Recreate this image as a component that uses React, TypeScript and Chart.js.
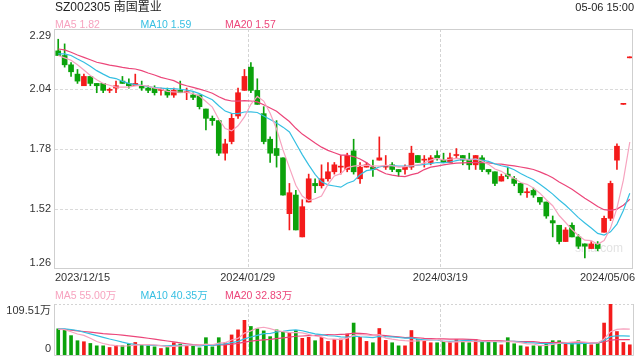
import React, { useEffect, useRef } from 'react';
import { Chart, registerables } from 'chart.js';

Chart.register(...registerables);

const DATES = [
  '2023/12/15', '2023/12/18', '2023/12/19', '2023/12/20', '2023/12/21', '2023/12/22',
  '2023/12/25', '2023/12/26', '2023/12/27', '2023/12/28', '2023/12/29',
  '2024/01/02', '2024/01/03', '2024/01/04', '2024/01/05',
  '2024/01/08', '2024/01/09', '2024/01/10', '2024/01/11', '2024/01/12',
  '2024/01/15', '2024/01/16', '2024/01/17', '2024/01/18', '2024/01/19',
  '2024/01/22', '2024/01/23', '2024/01/24', '2024/01/25', '2024/01/26',
  '2024/01/29', '2024/01/30', '2024/01/31', '2024/02/01', '2024/02/02',
  '2024/02/05', '2024/02/06', '2024/02/07', '2024/02/08',
  '2024/02/19', '2024/02/20', '2024/02/21', '2024/02/22', '2024/02/23',
  '2024/02/26', '2024/02/27', '2024/02/28', '2024/02/29', '2024/03/01',
  '2024/03/04', '2024/03/05', '2024/03/06', '2024/03/07', '2024/03/08',
  '2024/03/11', '2024/03/12', '2024/03/13', '2024/03/14', '2024/03/15',
  '2024/03/18', '2024/03/19', '2024/03/20', '2024/03/21', '2024/03/22',
  '2024/03/25', '2024/03/26', '2024/03/27', '2024/03/28', '2024/03/29',
  '2024/04/01', '2024/04/02', '2024/04/03',
  '2024/04/08', '2024/04/09', '2024/04/10', '2024/04/11', '2024/04/12',
  '2024/04/15', '2024/04/16', '2024/04/17', '2024/04/18', '2024/04/19',
  '2024/04/22', '2024/04/23', '2024/04/24', '2024/04/25', '2024/04/26',
  '2024/04/29', '2024/04/30', '2024/05/06',
];

const OPEN = [
  2.20, 2.18, 2.14, 2.10, 2.05, 2.09, 2.06, 2.06, 2.03, 2.04,
  2.07, 2.06, 2.05, 2.05, 2.04, 2.04, 2.03, 2.03, 2.01, 2.03,
  2.02, 2.01, 2.01, 1.95, 1.91, 1.90, 1.76, 1.81, 1.92, 2.03,
  2.13, 2.03, 1.93, 1.82, 1.78, 1.74, 1.50, 1.58, 1.40, 1.55,
  1.63, 1.62, 1.65, 1.68, 1.70, 1.69, 1.77, 1.65, 1.70, 1.70,
  1.73, 1.70, 1.71, 1.69, 1.69, 1.70, 1.75, 1.73, 1.72, 1.75,
  1.73, 1.72, 1.75, 1.75, 1.73, 1.71, 1.74, 1.69, 1.68, 1.64,
  1.67, 1.65, 1.63, 1.59, 1.60, 1.57, 1.55, 1.47, 1.45, 1.38,
  1.45, 1.40, 1.37, 1.35, 1.37, 1.42, 1.48, 1.73, 1.97, 2.17,
];
const HIGH = [
  2.25, 2.23, 2.15, 2.12, 2.10, 2.09, 2.06, 2.06, 2.04, 2.07,
  2.09, 2.08, 2.10, 2.07, 2.05, 2.05, 2.04, 2.04, 2.04, 2.07,
  2.04, 2.02, 2.01, 1.95, 1.92, 1.90, 1.82, 1.93, 2.04, 2.12,
  2.15, 2.08, 1.96, 1.83, 1.90, 1.74, 1.63, 1.60, 1.56, 1.67,
  1.65, 1.71, 1.72, 1.72, 1.75, 1.76, 1.82, 1.72, 1.72, 1.73,
  1.83, 1.75, 1.72, 1.69, 1.71, 1.79, 1.75, 1.75, 1.75, 1.77,
  1.76, 1.76, 1.78, 1.75, 1.76, 1.75, 1.75, 1.69, 1.68, 1.67,
  1.70, 1.66, 1.63, 1.61, 1.61, 1.57, 1.55, 1.49, 1.45, 1.44,
  1.46, 1.41, 1.37, 1.38, 1.38, 1.49, 1.64, 1.80, 1.97, 2.17,
];
const LOW = [
  2.18, 2.13, 2.09, 2.06, 2.05, 2.05, 2.02, 2.02, 2.02, 2.02,
  2.06, 2.04, 2.05, 2.03, 2.02, 2.01, 2.01, 2.00, 2.00, 2.02,
  1.99, 1.99, 1.95, 1.86, 1.88, 1.75, 1.73, 1.80, 1.91, 2.03,
  2.02, 1.97, 1.80, 1.72, 1.70, 1.58, 1.43, 1.43, 1.40, 1.55,
  1.59, 1.61, 1.64, 1.67, 1.67, 1.68, 1.67, 1.63, 1.70, 1.66,
  1.73, 1.69, 1.68, 1.66, 1.67, 1.69, 1.72, 1.70, 1.71, 1.73,
  1.72, 1.72, 1.74, 1.71, 1.69, 1.69, 1.68, 1.67, 1.62, 1.64,
  1.65, 1.62, 1.58, 1.57, 1.57, 1.54, 1.48, 1.40, 1.37, 1.38,
  1.40, 1.35, 1.31, 1.35, 1.34, 1.42, 1.47, 1.69, 1.97, 2.17,
];
const CLOSE = [
  2.18, 2.14, 2.11, 2.07, 2.09, 2.06, 2.05, 2.03, 2.03, 2.05,
  2.06, 2.05, 2.06, 2.04, 2.03, 2.02, 2.03, 2.01, 2.03, 2.02,
  2.02, 2.00, 1.96, 1.91, 1.90, 1.76, 1.80, 1.91, 2.02, 2.09,
  2.03, 1.97, 1.81, 1.76, 1.75, 1.58, 1.59, 1.43, 1.53, 1.65,
  1.62, 1.65, 1.68, 1.71, 1.70, 1.75, 1.68, 1.70, 1.71, 1.69,
  1.74, 1.70, 1.69, 1.68, 1.70, 1.76, 1.72, 1.73, 1.74, 1.74,
  1.72, 1.74, 1.75, 1.73, 1.71, 1.75, 1.69, 1.68, 1.63, 1.66,
  1.66, 1.63, 1.59, 1.59, 1.58, 1.55, 1.49, 1.46, 1.38, 1.43,
  1.40, 1.36, 1.36, 1.37, 1.35, 1.48, 1.63, 1.79, 1.97, 2.17,
];
// volume, in 万 (10k) shares
const VOLUME = [
  56.2, 54.0, 41.6, 30.7, 28.5, 24.8, 19.7, 19.7, 16.1, 20.4,
  19.7, 23.4, 27.0, 21.9, 19.7, 17.5, 13.9, 16.1, 26.3, 23.4,
  19.7, 20.4, 15.3, 37.2, 17.5, 37.2, 26.3, 43.1, 54.0, 74.5,
  61.3, 56.2, 51.8, 39.4, 54.0, 48.9, 46.7, 52.6, 35.8, 38.0,
  30.7, 38.0, 29.2, 33.6, 34.3, 45.3, 68.6, 38.0, 29.2, 26.3,
  56.9, 31.4, 26.3, 19.7, 19.7, 52.6, 34.3, 29.2, 26.3, 26.3,
  29.2, 27.0, 32.9, 29.2, 26.3, 32.9, 29.2, 29.2, 29.2, 21.9,
  37.2, 24.1, 19.7, 17.5, 19.7, 19.7, 25.6, 30.7, 30.7, 24.8,
  26.3, 30.7, 25.6, 21.9, 24.8, 68.6, 109.51, 50.4, 27.0, 21.9,
];

// moving-average values at the start of the window (history before the first bar)
const MA5_HEAD = [2.18, 2.17, 2.16, 2.14];
const MA10_HEAD = [2.187, 2.187, 2.18, 2.165, 2.151, 2.134, 2.115, 2.1, 2.086];
const MA20_HEAD = [2.208, 2.204, 2.194, 2.182, 2.172, 2.162, 2.151, 2.145, 2.139, 2.134,
  2.129, 2.125, 2.122, 2.115, 2.105, 2.096, 2.086, 2.079, 2.072];
const VMA5_HEAD = [55.5, 54.5, 50, 45];
const VMA10_HEAD = [56, 56, 54.7, 52.6, 48.9, 45.3, 41.6, 38.0, 34.3];
const VMA20_HEAD = [56, 55, 53.5, 52, 50.5, 49, 47.5, 46, 45, 44, 42.5, 41, 39.5, 38, 36, 34, 32, 30, 28];

const TITLE = 'SZ002305 南国置业';
const TIMESTAMP = '05-06 15:00';
const PRICE_LEGEND = [['MA5', '1.82'], ['MA10', '1.59'], ['MA20', '1.57']];
const VOLUME_LEGEND = [['MA5', '55.00万'], ['MA10', '40.35万'], ['MA20', '32.83万']];

const Y_MIN = 1.262;
const Y_MAX = 2.294;
const Y_TICKS = 5;
const VOL_MAX = 109.51;
const AXIS_LABEL_INDEX = [0, 30, 60, 89];
const DIVIDER_INDEX = [30, 60];

const RED = '#f41b1b';
const GREEN = '#0ba20b';
const MA_COLORS = ['#f7a3bf', '#36bfe2', '#ec467a'];
const FONT = '"Liberation Sans", Arial, "Noto Sans CJK SC", sans-serif';

function sma(values: number[], n: number, head: number[]) {
  return values.map((_, i) => {
    if (i < head.length) return head[i];
    let s = 0;
    for (let k = i - n + 1; k <= i; k++) s += values[k];
    return s / n;
  });
}

const UP = OPEN.map((o, i) => CLOSE[i] >= o);
const CANDLE_COLORS = UP.map((u) => (u ? RED : GREEN));

function dashedLine(ctx: CanvasRenderingContext2D, x1: number, y1: number, x2: number, y2: number) {
  ctx.beginPath();
  ctx.moveTo(x1, y1);
  ctx.lineTo(x2, y2);
  ctx.stroke();
}

function dividers(chart: any) {
  const { ctx, chartArea: a } = chart;
  const x = chart.scales.x;
  const slot = x.getPixelForValue(1) - x.getPixelForValue(0);
  ctx.save();
  ctx.strokeStyle = '#d4d4d4';
  ctx.lineWidth = 1;
  ctx.setLineDash([3, 2]);
  DIVIDER_INDEX.forEach((i) => {
    const px = Math.round(x.getPixelForValue(i) - slot / 2) + 0.5;
    dashedLine(ctx, px, a.top, px, a.bottom);
  });
  ctx.restore();
}

const pricePlugin = {
  id: 'priceDecor',
  beforeDatasetsDraw(chart: any) {
    const { ctx, chartArea: a } = chart;
    const y = chart.scales.y;
    ctx.save();
    ctx.font = `12px ${FONT}`;
    ctx.fillStyle = '#e3e3e3';
    ctx.textAlign = 'right';
    ctx.textBaseline = 'middle';
    ctx.fillText('sina.com', a.right - 10, a.bottom - 20);
    ctx.strokeStyle = '#dadada';
    ctx.lineWidth = 1;
    ctx.setLineDash([3, 2]);
    for (let k = 1; k < Y_TICKS - 1; k++) {
      const v = Y_MIN + ((Y_MAX - Y_MIN) * k) / (Y_TICKS - 1);
      const py = Math.round(y.getPixelForValue(v)) + 0.5;
      dashedLine(ctx, a.left, py, a.right, py);
    }
    ctx.restore();
    dividers(chart);
  },
  afterDraw(chart: any) {
    const { ctx, chartArea: a } = chart;
    const x = chart.scales.x;
    const y = chart.scales.y;
    ctx.save();
    ctx.strokeStyle = '#cfcfcf';
    ctx.lineWidth = 1;
    ctx.strokeRect(a.left - 0.5, a.top + 0.5, a.right - a.left, a.bottom - a.top - 1);
    ctx.font = `11px ${FONT}`;
    ctx.fillStyle = '#333';
    ctx.textAlign = 'right';
    ctx.textBaseline = 'middle';
    for (let k = 0; k < Y_TICKS; k++) {
      const v = Y_MIN + ((Y_MAX - Y_MIN) * k) / (Y_TICKS - 1);
      let py = y.getPixelForValue(v);
      py = Math.min(Math.max(py, a.top + 7), a.bottom - 6);
      ctx.fillText(v.toFixed(2), a.left - 4, py);
    }
    const slot = x.getPixelForValue(1) - x.getPixelForValue(0);
    AXIS_LABEL_INDEX.forEach((i, n) => {
      const label = DATES[i];
      let px = x.getPixelForValue(i) - slot / 2;
      if (n === 0) {
        ctx.textAlign = 'left';
        px = a.left;
      } else if (n === AXIS_LABEL_INDEX.length - 1) {
        ctx.textAlign = 'right';
        px = a.right + 2;
      } else {
        ctx.textAlign = 'center';
      }
      ctx.fillText(label, px, a.bottom + 8.5);
    });
    ctx.restore();
  },
};

const volumePlugin = {
  id: 'volumeDecor',
  beforeDatasetsDraw(chart: any) {
    const { ctx, chartArea: a } = chart;
    ctx.save();
    ctx.strokeStyle = '#d4d4d4';
    ctx.lineWidth = 1;
    ctx.setLineDash([2, 2]);
    dashedLine(ctx, a.left, a.top + 0.5, a.right, a.top + 0.5);
    ctx.restore();
    dividers(chart);
  },
  afterDraw(chart: any) {
    const { ctx, chartArea: a } = chart;
    const y = chart.scales.y;
    ctx.save();
    ctx.strokeStyle = '#cfcfcf';
    ctx.lineWidth = 1;
    ctx.beginPath();
    ctx.moveTo(a.left - 0.5, a.top);
    ctx.lineTo(a.left - 0.5, a.bottom + 0.5);
    ctx.lineTo(a.right + 0.5, a.bottom + 0.5);
    ctx.lineTo(a.right + 0.5, a.top);
    ctx.stroke();
    ctx.font = `11px ${FONT}`;
    ctx.fillStyle = '#333';
    ctx.textAlign = 'right';
    ctx.textBaseline = 'middle';
    const top = Math.max(y.getPixelForValue(VOL_MAX), a.top + 7);
    ctx.fillText(`${VOL_MAX.toFixed(2)}万`, a.left - 4, top);
    const bottom = Math.min(y.getPixelForValue(0), a.bottom - 6);
    ctx.fillText('0', a.left - 4, bottom);
    ctx.restore();
  },
};

function lineDataset(data: number[], color: string) {
  return {
    type: 'line' as const,
    data,
    borderColor: color,
    borderWidth: 1.2,
    pointRadius: 0,
    tension: 0,
    order: 0,
  };
}

export default function App() {
  const priceRef = useRef<HTMLCanvasElement>(null);
  const volRef = useRef<HTMLCanvasElement>(null);

  useEffect(() => {
    const ma5 = sma(CLOSE, 5, MA5_HEAD);
    const ma10 = sma(CLOSE, 10, MA10_HEAD);
    const ma20 = sma(CLOSE, 20, MA20_HEAD);
    const vma5 = sma(VOLUME, 5, VMA5_HEAD);
    const vma10 = sma(VOLUME, 10, VMA10_HEAD);
    const vma20 = sma(VOLUME, 20, VMA20_HEAD);

    const price = new Chart(priceRef.current as HTMLCanvasElement, {
      type: 'bar',
      data: {
        labels: DATES,
        datasets: [
          lineDataset(ma5, MA_COLORS[0]),
          lineDataset(ma10, MA_COLORS[1]),
          lineDataset(ma20, MA_COLORS[2]),
          {
            type: 'bar',
            data: OPEN.map((o, i) => [o, CLOSE[i]]),
            backgroundColor: CANDLE_COLORS,
            barThickness: 5,
            minBarLength: 1,
            grouped: false,
            order: 1,
          } as any,
          {
            type: 'bar',
            data: LOW.map((l, i) => [l, HIGH[i]]),
            backgroundColor: CANDLE_COLORS,
            barThickness: 1,
            minBarLength: 1,
            grouped: false,
            order: 2,
          } as any,
        ],
      },
      options: {
        responsive: false,
        animation: false,
        events: [],
        layout: { padding: { left: 55, right: 7, top: 29, bottom: 91 } },
        plugins: { legend: { display: false }, tooltip: { enabled: false } },
        scales: {
          x: { type: 'category', offset: true, display: false },
          y: { type: 'linear', min: Y_MIN, max: Y_MAX, display: false },
        },
      },
      plugins: [pricePlugin],
    });

    const volume = new Chart(volRef.current as HTMLCanvasElement, {
      type: 'bar',
      data: {
        labels: DATES,
        datasets: [
          lineDataset(vma5, MA_COLORS[0]),
          lineDataset(vma10, MA_COLORS[1]),
          lineDataset(vma20, MA_COLORS[2]),
          {
            type: 'bar',
            data: VOLUME,
            backgroundColor: CANDLE_COLORS,
            barThickness: 3,
            grouped: false,
            order: 1,
          } as any,
        ],
      },
      options: {
        responsive: false,
        animation: false,
        events: [],
        layout: { padding: { left: 55, right: 7, top: 304, bottom: 5 } },
        plugins: { legend: { display: false }, tooltip: { enabled: false } },
        scales: {
          x: { type: 'category', offset: true, display: false },
          y: { type: 'linear', min: 0, max: VOL_MAX, display: false },
        },
      },
      plugins: [volumePlugin],
    });

    return () => {
      price.destroy();
      volume.destroy();
    };
  }, []);

  const legendRow = (items: string[][], top: number) =>
    items.map(([name, value], i) => (
      <div
        key={name}
        style={{
          position: 'absolute',
          left: [55, 140.5, 225][i],
          top,
          fontSize: 10.5,
          lineHeight: '14px',
          color: MA_COLORS[i],
          whiteSpace: 'nowrap',
        }}
      >
        {name} {value}
      </div>
    ));

  return (
    <div
      style={{
        position: 'fixed',
        left: 0,
        top: 0,
        width: 640,
        height: 360,
        overflow: 'hidden',
        background: '#fff',
        fontFamily: FONT,
      }}
    >
      <canvas ref={priceRef} width={640} height={360} style={{ position: 'absolute', left: 0, top: 0 }} />
      <canvas ref={volRef} width={640} height={360} style={{ position: 'absolute', left: 0, top: 0 }} />
      <div style={{ position: 'absolute', left: 55, top: 0, fontSize: 12, lineHeight: '15px', color: '#222', whiteSpace: 'nowrap' }}>
        {TITLE}
      </div>
      <div style={{ position: 'absolute', right: 6, top: 0, fontSize: 11, lineHeight: '14px', color: '#222', whiteSpace: 'nowrap' }}>
        {TIMESTAMP}
      </div>
      {legendRow(PRICE_LEGEND, 17)}
      {legendRow(VOLUME_LEGEND, 288)}
    </div>
  );
}
